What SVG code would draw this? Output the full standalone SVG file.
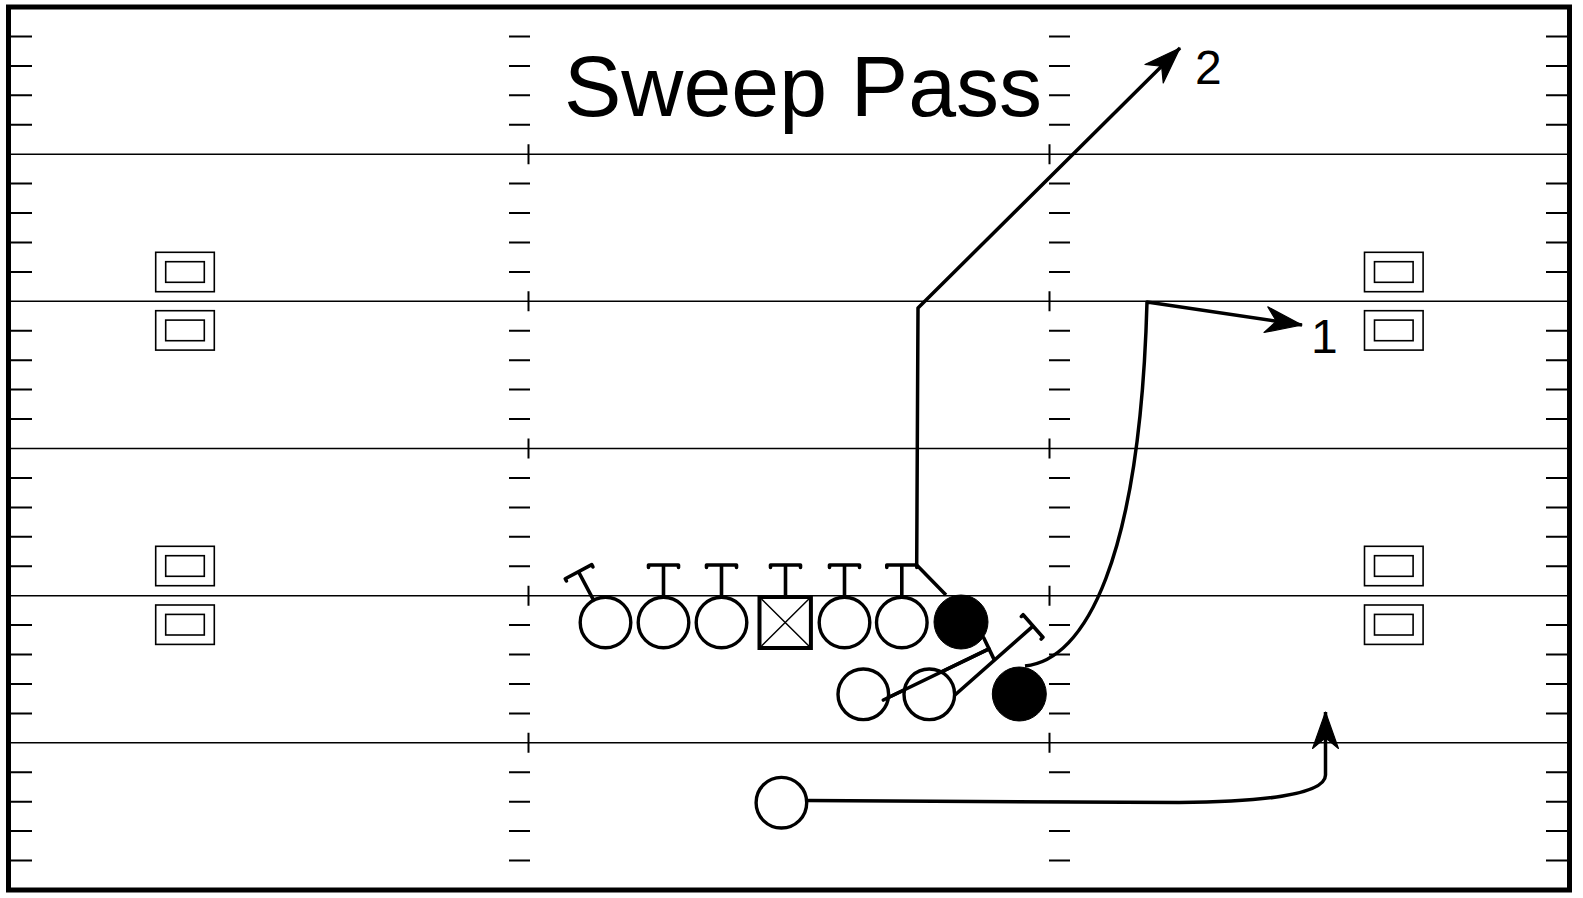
<svg xmlns="http://www.w3.org/2000/svg" xmlns:xlink="http://www.w3.org/1999/xlink" width="1583" height="898" viewBox="0 0 1583 898">
<style>
.fl{stroke:#000;stroke-width:1.6;fill:none}
.tk{stroke:#000;stroke-width:2;fill:none}
.ym{stroke:#000;stroke-width:1.6;fill:none}
.pl{stroke:#000;stroke-width:3.4;fill:#fff}
.pf{stroke:#000;stroke-width:1;fill:#000}
.blk{stroke:#000;stroke-width:3.6;fill:none;stroke-linecap:round;stroke-linejoin:round}
.rt{stroke:#000;stroke-width:3.5;fill:none;stroke-linejoin:round}
.lbl{font-family:"Liberation Sans",Arial,sans-serif;fill:#000}
</style>
<defs>
<g id="ticks">
<path class="tk" d="M0 36.4h21M0 65.9h21M0 95.3h21M0 124.7h21M0 183.6h21M0 213h21M0 242.5h21M0 271.9h21M0 330.8h21M0 360.2h21M0 389.6h21M0 419.1h21M0 477.9h21M0 507.4h21M0 536.8h21M0 566.2h21M0 625.1h21M0 654.5h21M0 684h21M0 713.4h21M0 772.3h21M0 801.7h21M0 831.1h21M0 860.6h21"/>
</g>
<g id="ymark">
<rect class="ym" x="0" y="0" width="58.6" height="39.4"/>
<rect class="ym" x="10" y="9.4" width="38.6" height="20.6"/>
</g>
<path id="tee" class="blk" d="M0 -22V-57.5M-15 -55V-57.5H15V-55"/>
<marker id="ah" markerUnits="userSpaceOnUse" markerWidth="40" markerHeight="30" viewBox="-32 -12 34 24" refX="0" refY="0" orient="auto">
<path d="M0 0L-31 -11L-22 0L-31 11Z" fill="#000" stroke="#000" stroke-width="1" stroke-linejoin="round"/>
</marker>
</defs>
<g id="field">
<rect x="8.5" y="7" width="1561" height="883" fill="#fff" stroke="#000" stroke-width="5"/>
<path class="fl" d="M11 154.2H1567M11 301.3H1567M11 448.5H1567M11 595.7H1567M11 742.8H1567"/>
<use xlink:href="#ticks" href="#ticks" x="11" y="0"/>
<use xlink:href="#ticks" href="#ticks" x="509" y="0"/>
<use xlink:href="#ticks" href="#ticks" x="1049" y="0"/>
<use xlink:href="#ticks" href="#ticks" x="1546" y="0"/>
<path class="tk" d="M528.5 144.2v20M528.5 291.3v20M528.5 438.5v20M528.5 585.7v20M528.5 732.8v20M1049.5 144.2v20M1049.5 291.3v20M1049.5 438.5v20M1049.5 585.7v20M1049.5 732.8v20"/>
<use xlink:href="#ymark" href="#ymark" x="155.7" y="252.3"/>
<use xlink:href="#ymark" href="#ymark" x="155.7" y="310.7"/>
<use xlink:href="#ymark" href="#ymark" x="155.7" y="546.3"/>
<use xlink:href="#ymark" href="#ymark" x="155.7" y="605"/>
<use xlink:href="#ymark" href="#ymark" x="1364.5" y="252.3"/>
<use xlink:href="#ymark" href="#ymark" x="1364.5" y="310.7"/>
<use xlink:href="#ymark" href="#ymark" x="1364.5" y="546.3"/>
<use xlink:href="#ymark" href="#ymark" x="1364.5" y="605"/>
</g>
<text id="title" class="lbl" x="564" y="116" font-size="86">Sweep Pass</text>
<g id="connectors">
<use xlink:href="#tee" href="#tee" transform="translate(605.5 622.5) rotate(-28)"/>
<use xlink:href="#tee" href="#tee" transform="translate(663.5 622.5)"/>
<use xlink:href="#tee" href="#tee" transform="translate(721.5 622.5)"/>
<use xlink:href="#tee" href="#tee" transform="translate(785.5 622.5)"/>
<use xlink:href="#tee" href="#tee" transform="translate(844.5 622.5)"/>
<use xlink:href="#tee" href="#tee" transform="translate(901.8 622.5)"/>
<path class="blk" d="M883.3 700L989 648.8M983.8 638L994.2 659.6"/>
<path class="blk" d="M955.5 694.5L1033 626.2M1021.4 616.4L1023.1 614.7L1042.9 637.3L1041.2 639"/>
<path class="rt" d="M946 595L916.7 565L918 308L1180 48" marker-end="url(#ah)"/>
<path class="rt" d="M1025 666C1085 660 1140 560 1147 302L1302 325" marker-end="url(#ah)"/>
<path class="rt" d="M807 800.5L1179 802.6C1260 802 1325.5 795 1325.5 775L1325.5 712" marker-end="url(#ah)"/>
</g>
<g id="p1"><circle class="pl" cx="605.5" cy="622.5" r="25.3"/></g>
<g id="p2"><circle class="pl" cx="663.5" cy="622.5" r="25.3"/></g>
<g id="p3"><circle class="pl" cx="721.5" cy="622.5" r="25.3"/></g>
<g id="center"><rect x="759.5" y="597" width="51.4" height="51" fill="#fff" stroke="#000" stroke-width="4"/><path stroke="#000" stroke-width="1.5" d="M761.5 599L808.9 646M808.9 599L761.5 646"/></g>
<g id="p5"><circle class="pl" cx="844.5" cy="622.5" r="25.3"/></g>
<g id="p6"><circle class="pl" cx="901.8" cy="622.5" r="25.3"/></g>
<g id="te"><circle class="pf" cx="961" cy="622" r="27"/></g>
<g id="b1"><circle class="pl" cx="863.3" cy="694.3" r="25.3"/></g>
<g id="b2"><circle class="pl" cx="929.3" cy="694.3" r="25.3"/></g>
<g id="b3"><circle class="pf" cx="1019.3" cy="694" r="27"/></g>
<g id="wr"><circle class="pl" cx="781.4" cy="802.7" r="25.3"/></g>
<text id="l2" class="lbl" x="1195" y="83.5" font-size="48">2</text>
<text id="l1" class="lbl" x="1311" y="353" font-size="48">1</text>
<path class="blk" d="M883.3 700L989 648.8"/>
</svg>
